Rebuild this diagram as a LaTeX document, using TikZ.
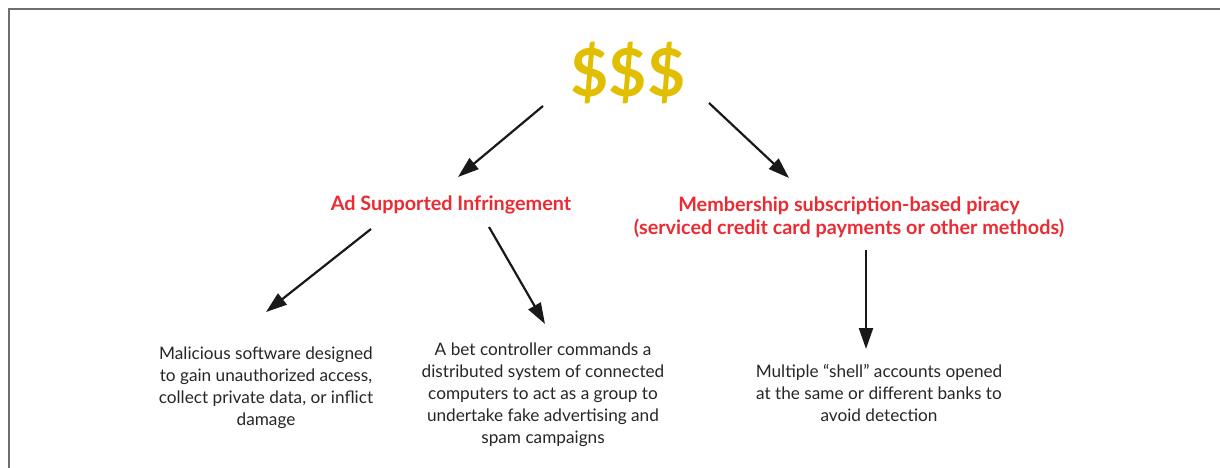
\documentclass[tikz,border=0pt]{standalone}
\usepackage{fontspec}
\setmainfont{Lato}
\usetikzlibrary{arrows.meta}

\definecolor{gold}{HTML}{E2BE00}
\definecolor{redtxt}{HTML}{EC2A31}
\definecolor{frame}{HTML}{6E6E6E}

\tikzset{
  every node/.style={inner sep=0pt,align=center},
  money/.style={text=gold,font=\fontsize{66}{66}\selectfont\bfseries},
  kind/.style={text=redtxt,font=\fontsize{19.8}{23}\selectfont\bfseries},
  note/.style={text=black!85,font=\fontsize{17.2}{22}\selectfont},
  arr/.style={line width=2.2pt,black!90,-{Triangle[length=21pt,width=14pt]}}
}

\begin{document}
\begin{tikzpicture}[x=1pt,y=-1pt]
      \useasboundingbox (0,0) rectangle (1220,468);
      \draw [frame,line width=2pt] (9,468) -- (9,9) -- (1220,9);

      \node [money] (cash) at (628,73) {\$\$\$};
      \node [kind] (ads) at (451,205) {Ad Supported Infringement};
      \node [kind] (subs) at (849,217) {Membership subscription-based piracy\\(serviced credit card payments or other methods)};
      \node [note] (malware) at (266,388) {Malicious software designed\\to gain unauthorized access,\\collect private data, or inflict\\damage};
      \node [note] (botnet) at (543,395) {A bet controller commands a\\distributed system of connected\\computers to act as a group to\\undertake fake advertising and\\spam campaigns};
      \node [note] (shell) at (879,393) {Multiple ``shell'' accounts opened\\at the same or different banks to\\avoid detection};

      \coordinate (c1) at (543,106);  \coordinate (a1) at (458,177);
      \coordinate (c2) at (709,103);  \coordinate (s2) at (789,178);
      \coordinate (a3) at (371,229);  \coordinate (m3) at (266,312);
      \coordinate (a4) at (489,227);  \coordinate (b4) at (545,324);
      \coordinate (s5) at (866,250);  \coordinate (h5) at (866,349);

      \foreach \from/\to in {c1/a1,c2/s2,a3/m3,a4/b4,s5/h5}
        \draw [arr] (\from) -- (\to);
    \end{tikzpicture}
\end{document}
